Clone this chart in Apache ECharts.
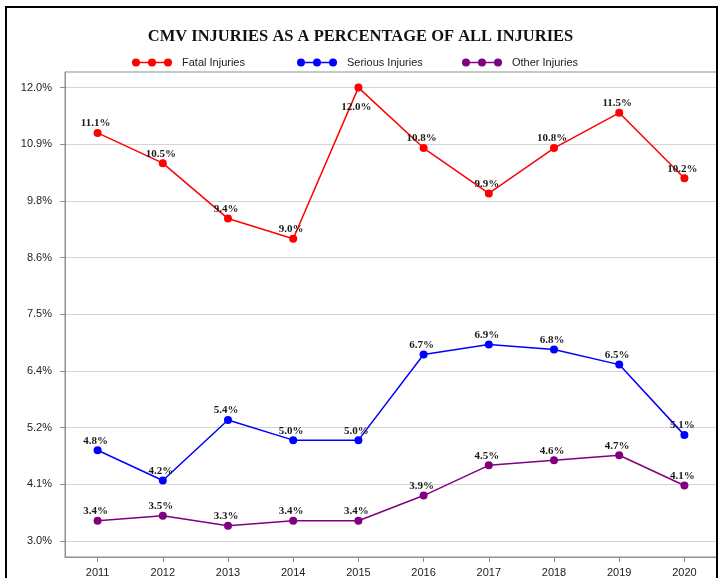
<!DOCTYPE html>
<html>
<head>
<meta charset="utf-8">
<title>CMV Injuries as a Percentage of All Injuries</title>
<script src="https://cdn.jsdelivr.net/npm/echarts@6/dist/echarts.min.js"></script>
<style>
  html, body { margin: 0; padding: 0; background: #fff; }
  #chart { width: 721px; height: 578px; }
</style>
</head>
<body>
<div id="chart"></div>
<script>
// Reporting years
const years = ['2011', '2012', '2013', '2014', '2015', '2016', '2017', '2018', '2019', '2020'];

// CMV share of each injury type (%)
const fatalInjuries   = [11.1, 10.5, 9.4, 9.0, 12.0, 10.8, 9.9, 10.8, 11.5, 10.2];
const seriousInjuries = [4.8, 4.2, 5.4, 5.0, 5.0, 6.7, 6.9, 6.8, 6.5, 5.1];
const otherInjuries   = [3.4, 3.5, 3.3, 3.4, 3.4, 3.9, 4.5, 4.6, 4.7, 4.1];

// Value axis ticks and their printed labels
const yTicks      = [3, 4.125, 5.25, 6.375, 7.5, 8.625, 9.75, 10.875, 12];
const yTickLabels = ['3.0%', '4.1%', '5.2%', '6.4%', '7.5%', '8.6%', '9.8%', '10.9%', '12.0%'];

const seriesNames  = ['Fatal Injuries', 'Serious Injuries', 'Other Injuries'];
const seriesColors = ['#ff0000', '#0000ff', '#800080'];

// Legend glyph: a short line with three round markers (all subpaths clockwise)
const legendIcon = 'path://M0,3.3H40V4.7H0Z' +
  'M0,4a4,4 0 1,1 8,0a4,4 0 1,1 -8,0Z' +
  'M16,4a4,4 0 1,1 8,0a4,4 0 1,1 -8,0Z' +
  'M32,4a4,4 0 1,1 8,0a4,4 0 1,1 -8,0Z';

const labelFont = {
  fontFamily: '"Liberation Serif", "Times New Roman", serif',
  fontWeight: 'bold',
  fontSize: 11,
  color: '#1a1a1a'
};

function makeSeries(name, values, color, belowIdx) {
  return {
    name: name,
    type: 'line',
    data: values.map((v, i) => ({
      value: v,
      label: belowIdx.indexOf(i) >= 0 ? { position: 'bottom', distance: 10 } : undefined
    })),
    symbol: 'circle',
    symbolSize: 8,
    lineStyle: { color: color, width: 1.5 },
    itemStyle: { color: color },
    label: Object.assign({
      show: true,
      position: 'top',
      distance: 0,
      offset: [-2, 0],
      formatter: p => p.value.toFixed(1) + '%'
    }, labelFont),
    emphasis: { disabled: true }
  };
}

function makeLegend(name, left) {
  return {
    data: [name],
    left: left,
    top: 57,
    padding: 0,
    icon: legendIcon,
    itemWidth: 40,
    itemHeight: 8,
    textStyle: {
      fontFamily: '"Liberation Sans", Arial, sans-serif',
      fontSize: 11,
      color: '#222',
      padding: [0, 0, 0, 5]
    },
    selectedMode: false
  };
}

const chart = echarts.init(document.getElementById('chart'), null, { renderer: 'canvas' });

chart.setOption({
  animation: false,
  backgroundColor: '#fff',
  title: {
    text: 'CMV INJURIES AS A PERCENTAGE OF ALL INJURIES',
    left: 'center',
    top: 23,
    textStyle: {
      fontFamily: '"Liberation Serif", "Times New Roman", serif',
      fontWeight: 'bold',
      fontSize: 16.5,
      color: '#111'
    }
  },
  legend: [
    makeLegend(seriesNames[0], 132),
    makeLegend(seriesNames[1], 297),
    makeLegend(seriesNames[2], 462)
  ],
  grid: {
    left: 65,
    right: 4,
    top: 72,
    bottom: 21,
    show: true,
    borderColor: '#8b8f96',
    borderWidth: 1,
    containLabel: false
  },
  xAxis: {
    type: 'category',
    data: years,
    boundaryGap: true,
    axisLine: { lineStyle: { color: '#8b8f96', width: 1 } },
    axisTick: { show: true, alignWithLabel: true, length: 5, lineStyle: { color: '#8b8f96' } },
    axisLabel: {
      margin: 10,
      fontFamily: '"Liberation Sans", Arial, sans-serif',
      fontSize: 11,
      color: '#222'
    },
    splitLine: { show: false }
  },
  yAxis: {
    type: 'value',
    min: 2.68,
    max: 12.31,
    axisLine: { show: true, lineStyle: { color: '#8b8f96', width: 1 } },
    axisTick: { show: true, length: 5, customValues: yTicks, lineStyle: { color: '#8b8f96' } },
    axisLabel: {
      customValues: yTicks,
      margin: 13,
      fontFamily: '"Liberation Sans", Arial, sans-serif',
      fontSize: 11,
      color: '#222',
      formatter: v => {
        const i = yTicks.findIndex(t => Math.abs(t - v) < 1e-6);
        return i >= 0 ? yTickLabels[i] : '';
      }
    },
    splitLine: { show: true, lineStyle: { color: '#d4d4d4', width: 1 } }
  },
  series: [
    makeSeries(seriesNames[0], fatalInjuries, seriesColors[0], [4]),
    makeSeries(seriesNames[1], seriousInjuries, seriesColors[1], []),
    makeSeries(seriesNames[2], otherInjuries, seriesColors[2], [])
  ],
  graphic: [{
    type: 'rect',
    z: 100,
    silent: true,
    shape: { x: 6, y: 7, width: 711, height: 600 },
    style: { fill: null, stroke: '#000', lineWidth: 2 }
  }]
});
</script>
</body>
</html>
